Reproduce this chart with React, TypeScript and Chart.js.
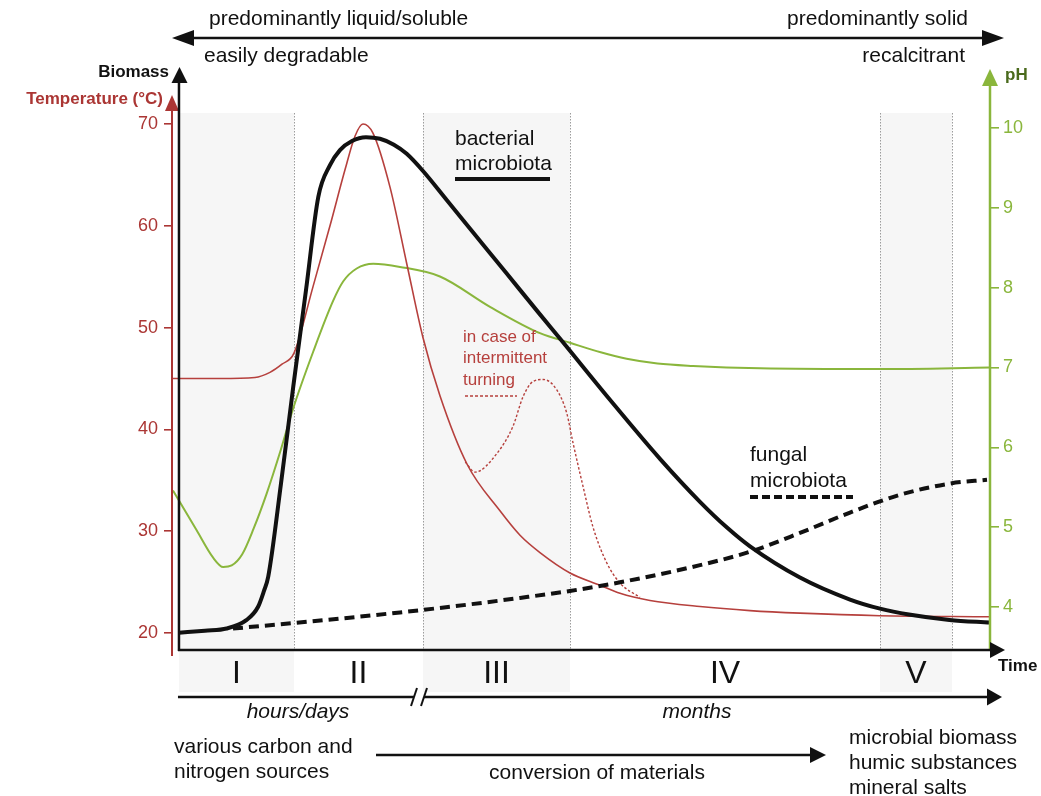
import React, { useEffect, useRef } from "react";
import { Chart, registerables } from "chart.js";

Chart.register(...registerables);

const FONT = "'Liberation Sans', Arial, Helvetica, sans-serif";
const RED = "#ab3634";
const RED_LINE = "#b6403d";
const GREEN = "#8ab63c";
const GREEN_DARK = "#4a6a1c";
const INK = "#111111";

// ---- axes / ticks ----
const tempTicks = [20, 30, 40, 50, 60, 70];
const phTicks = [4, 5, 6, 7, 8, 9, 10];

// ---- phases (time units) ----
const phaseBounds = [0, 14.18, 30.09, 48.21, 86.44, 95.31];
const phaseLabels = ["I", "II", "III", "IV", "V"];
const phaseShaded = [true, false, true, false, true];

// ---- bacterial microbiota (biomass, relative units) ----
const bacterialTime = [0, 3.2, 5.88, 8.35, 9.74, 10.48, 11.0, 12.58, 14.09, 15.66, 17.18, 18.62, 19.85, 21.33, 23.06, 24.78, 26.5, 28.08, 30.09, 33.01, 36.25, 40.41, 44.51, 47.35, 53.14, 59.31, 64.24, 67.57, 70.41, 76.57, 82.74, 86.44, 90.0, 95.0, 100];
const bacterialBiomass = [3.2, 3.6, 4.0, 5.6, 8.0, 11.0, 13.6, 31, 49, 67, 84.4, 90.3, 93.1, 94.8, 95.5, 95.2, 94.1, 92.4, 89.2, 83.8, 77.8, 70.1, 62.5, 57.3, 46.6, 35.6, 27.6, 22.8, 19.3, 13.5, 9.4, 7.7, 6.6, 5.6, 5.1];

// ---- fungal microbiota ----
const fungalTime = [6.66, 14.06, 27.25, 35.88, 42.05, 48.21, 54.38, 64.24, 70.41, 76.57, 82.74, 88.9, 95.07, 99.63];
const fungalBiomass = [4.0, 5.0, 7.0, 8.5, 9.7, 11.0, 12.6, 15.8, 18.3, 21.8, 25.6, 28.9, 31.0, 31.7];

// ---- temperature (°C) ----
const tempTime = [-0.86, 5.06, 9.37, 11.22, 12.7, 14.18, 16.52, 18.62, 20.47, 21.7, 22.69, 23.92, 26.02, 28.08, 30.09, 32.18, 35.51, 39.58, 42.05, 44.51, 48.21, 51.91, 54.38, 58.08, 64.24, 70.41, 76.57, 86.44, 100];
const tempValues = [45, 45, 45.1, 45.6, 46.4, 47.5, 54, 60, 65.5, 68.8, 70, 69.1, 63.8, 56.3, 49.0, 43.3, 36.6, 32, 29.6, 27.9, 25.9, 24.7, 23.9, 23.2, 22.6, 22.2, 21.95, 21.7, 21.6];

// ---- temperature with intermittent turning ----
const turnTime = [35.3, 36.5, 39.17, 41.18, 42.42, 43.65, 44.92, 46.57, 47.81, 48.58, 49.82, 51.05, 52.74, 54.38, 56.84];
const turnValues = [36.8, 35.8, 37.6, 40.3, 43.2, 44.7, 44.9, 43.9, 41.6, 38.7, 34.4, 30.4, 26.9, 24.9, 23.5];

// ---- pH ----
const phTime = [-0.74, 2.18, 4.19, 5.46, 6.5, 7.8, 9.2, 10.81, 12.5, 14.09, 16.56, 19.03, 20.26, 21.91, 23.96, 27.25, 32.18, 38.35, 44.51, 48.21, 52.0, 55.2, 59.0, 63.38, 71.64, 86.44, 100];
const phValues = [5.46, 4.96, 4.62, 4.5, 4.52, 4.66, 4.98, 5.42, 5.95, 6.49, 7.2, 7.84, 8.08, 8.24, 8.3, 8.26, 8.14, 7.76, 7.43, 7.31, 7.19, 7.11, 7.05, 7.02, 6.99, 6.98, 7.0];

const pts = (xs: number[], ys: number[]) => xs.map((x, i) => ({ x, y: ys[i] }));

function tri(ctx: CanvasRenderingContext2D, tipX: number, tipY: number, dir: string, len: number, half: number, color: string) {
  ctx.fillStyle = color;
  ctx.beginPath();
  ctx.moveTo(tipX, tipY);
  if (dir === "up") { ctx.lineTo(tipX - half, tipY + len); ctx.lineTo(tipX + half, tipY + len); }
  if (dir === "right") { ctx.lineTo(tipX - len, tipY - half); ctx.lineTo(tipX - len, tipY + half); }
  if (dir === "left") { ctx.lineTo(tipX + len, tipY - half); ctx.lineTo(tipX + len, tipY + half); }
  ctx.closePath();
  ctx.fill();
}

function seg(ctx: CanvasRenderingContext2D, x1: number, y1: number, x2: number, y2: number) {
  ctx.beginPath();
  ctx.moveTo(x1, y1);
  ctx.lineTo(x2, y2);
  ctx.stroke();
}

function txt(ctx: CanvasRenderingContext2D, s: string, x: number, y: number, font: string, color: string, align: CanvasTextAlign) {
  ctx.font = font;
  ctx.fillStyle = color;
  ctx.textAlign = align;
  ctx.textBaseline = "middle";
  ctx.fillText(s, x, y);
}

const overlayPlugin = {
  id: "overlay",
  beforeDatasetsDraw(chart: any) {
    const { ctx, chartArea: ca, scales } = chart;
    const xs = scales.x;
    ctx.save();
    for (let i = 0; i < phaseLabels.length; i++) {
      const a = xs.getPixelForValue(phaseBounds[i]);
      const b = xs.getPixelForValue(phaseBounds[i + 1]);
      if (phaseShaded[i]) {
        ctx.fillStyle = "#f6f6f6";
        ctx.fillRect(a, ca.top, b - a, 692 - ca.top);
      }
    }
    ctx.strokeStyle = "#9c9c9c";
    ctx.lineWidth = 1;
    ctx.setLineDash([1.5, 1.5]);
    for (let i = 1; i < phaseBounds.length; i++) {
      const p = Math.round(xs.getPixelForValue(phaseBounds[i])) + 0.5;
      seg(ctx, p, ca.top, p, ca.bottom);
    }
    ctx.restore();
  },
  afterDraw(chart: any) {
    const { ctx, chartArea: ca, scales } = chart;
    const xs = scales.x;
    const x0 = xs.getPixelForValue(0);
    const bottom = ca.bottom;
    ctx.save();
    ctx.setLineDash([]);
    ctx.lineCap = "butt";

    // temperature axis (red)
    ctx.strokeStyle = RED;
    ctx.lineWidth = 2;
    seg(ctx, ca.left, bottom + 6, ca.left, 108);
    tri(ctx, ca.left, 95, "up", 16, 7, RED);

    // biomass axis (black)
    ctx.strokeStyle = INK;
    ctx.lineWidth = 2.5;
    seg(ctx, x0, bottom + 1, x0, 82);
    tri(ctx, x0 + 0.5, 67, "up", 16, 8, INK);

    // pH axis (green)
    ctx.strokeStyle = GREEN;
    ctx.lineWidth = 2.5;
    seg(ctx, ca.right, bottom, ca.right, 84);
    tri(ctx, ca.right, 69, "up", 17, 8, GREEN);

    // time axis
    ctx.strokeStyle = INK;
    ctx.lineWidth = 2.5;
    seg(ctx, x0 - 1, bottom, 992, bottom);
    tri(ctx, 1005, bottom, "right", 15, 8, INK);

    // axis titles
    txt(ctx, "Biomass", 169, 72, `bold 17px ${FONT}`, INK, "right");
    txt(ctx, "Temperature (°C)", 163, 99, `bold 17px ${FONT}`, RED, "right");
    txt(ctx, "pH", 1005, 75, `bold 17px ${FONT}`, GREEN_DARK, "left");
    txt(ctx, "Time", 998, 666, `bold 17px ${FONT}`, INK, "left");

    // phase labels
    for (let i = 0; i < phaseLabels.length; i++) {
      const a = xs.getPixelForValue(phaseBounds[i]);
      const b = xs.getPixelForValue(phaseBounds[i + 1]);
      txt(ctx, phaseLabels[i], (a + b) / 2, 674, `32px ${FONT}`, INK, "center");
    }

    // top double arrow
    ctx.strokeStyle = INK;
    ctx.lineWidth = 2.5;
    seg(ctx, 190, 38, 986, 38);
    tri(ctx, 172, 38, "left", 22, 8, INK);
    tri(ctx, 1004, 38, "right", 22, 8, INK);
    txt(ctx, "predominantly liquid/soluble", 209, 19, `21px ${FONT}`, INK, "left");
    txt(ctx, "easily degradable", 204, 56, `21px ${FONT}`, INK, "left");
    txt(ctx, "predominantly solid", 968, 19, `21px ${FONT}`, INK, "right");
    txt(ctx, "recalcitrant", 965, 56, `21px ${FONT}`, INK, "right");

    // timeline with break
    ctx.lineWidth = 2.5;
    seg(ctx, x0 - 1, 697, 414, 697);
    seg(ctx, 424, 697, 989, 697);
    ctx.lineWidth = 2;
    seg(ctx, 411, 706, 417, 688);
    seg(ctx, 421, 706, 427, 688);
    tri(ctx, 1002, 697, "right", 15, 8.5, INK);
    txt(ctx, "hours/days", 298, 712, `italic 21px ${FONT}`, INK, "center");
    txt(ctx, "months", 697, 712, `italic 21px ${FONT}`, INK, "center");

    // materials
    txt(ctx, "various carbon and", 174, 747, `21px ${FONT}`, INK, "left");
    txt(ctx, "nitrogen sources", 174, 772, `21px ${FONT}`, INK, "left");
    ctx.lineWidth = 2.5;
    seg(ctx, 376, 755, 812, 755);
    tri(ctx, 826, 755, "right", 16, 8, INK);
    txt(ctx, "conversion of materials", 597, 773, `21px ${FONT}`, INK, "center");
    txt(ctx, "microbial biomass", 849, 738, `21px ${FONT}`, INK, "left");
    txt(ctx, "humic substances", 849, 763, `21px ${FONT}`, INK, "left");
    txt(ctx, "mineral salts", 849, 788, `21px ${FONT}`, INK, "left");

    // bacterial label
    txt(ctx, "bacterial", 455, 139, `21px ${FONT}`, INK, "left");
    txt(ctx, "microbiota", 455, 164, `21px ${FONT}`, INK, "left");
    ctx.lineWidth = 4;
    seg(ctx, 455, 179, 550, 179);

    // turning label
    txt(ctx, "in case of", 463, 337, `17px ${FONT}`, RED_LINE, "left");
    txt(ctx, "intermittent", 463, 358, `17px ${FONT}`, RED_LINE, "left");
    txt(ctx, "turning", 463, 380, `17px ${FONT}`, RED_LINE, "left");
    ctx.strokeStyle = RED_LINE;
    ctx.lineWidth = 1.6;
    ctx.setLineDash([3, 2]);
    seg(ctx, 465, 396, 517, 396);

    // fungal label
    ctx.setLineDash([]);
    txt(ctx, "fungal", 750, 455, `21px ${FONT}`, INK, "left");
    txt(ctx, "microbiota", 750, 481, `21px ${FONT}`, INK, "left");
    ctx.strokeStyle = INK;
    ctx.lineWidth = 4;
    ctx.setLineDash([8, 4]);
    seg(ctx, 750, 497, 853, 497);

    ctx.restore();
  },
};

export default function App() {
  const ref = useRef<HTMLCanvasElement>(null);
  useEffect(() => {
    if (!ref.current) return;
    const chart = new Chart(ref.current, {
      type: "line",
      data: {
        datasets: [
          {
            label: "bacterial microbiota",
            data: pts(bacterialTime, bacterialBiomass),
            yAxisID: "yB",
            borderColor: INK,
            borderWidth: 4,
            cubicInterpolationMode: "monotone",
            pointRadius: 0,
          },
          {
            label: "fungal microbiota",
            data: pts(fungalTime, fungalBiomass),
            yAxisID: "yB",
            borderColor: INK,
            borderWidth: 4,
            borderDash: [10, 6],
            cubicInterpolationMode: "monotone",
            pointRadius: 0,
          },
          {
            label: "temperature",
            data: pts(tempTime, tempValues),
            yAxisID: "yT",
            borderColor: RED_LINE,
            borderWidth: 1.6,
            cubicInterpolationMode: "monotone",
            pointRadius: 0,
          },
          {
            label: "temperature (intermittent turning)",
            data: pts(turnTime, turnValues),
            yAxisID: "yT",
            borderColor: RED_LINE,
            borderWidth: 1.4,
            borderDash: [2.5, 2],
            cubicInterpolationMode: "monotone",
            pointRadius: 0,
          },
          {
            label: "pH",
            data: pts(phTime, phValues),
            yAxisID: "yP",
            borderColor: GREEN,
            borderWidth: 2,
            cubicInterpolationMode: "monotone",
            pointRadius: 0,
          },
        ],
      },
      options: {
        responsive: false,
        animation: false,
        events: [],
        layout: { padding: { top: 113, bottom: 146, left: 0, right: 0 } },
        plugins: { legend: { display: false }, tooltip: { enabled: false } },
        scales: {
          x: { type: "linear", min: -0.86, max: 100, display: false },
          yT: {
            type: "linear",
            position: "left",
            min: 18.33,
            max: 71.08,
            afterFit: (s: any) => { s.width = 172; },
            afterBuildTicks: (s: any) => { s.ticks = tempTicks.map((v) => ({ value: v })); },
            border: { display: false },
            grid: { drawOnChartArea: false, drawTicks: true, tickLength: 8, color: RED, lineWidth: 1.6 },
            ticks: { color: RED, font: { family: FONT, size: 18 }, padding: 6, autoSkip: false },
          },
          yP: {
            type: "linear",
            position: "right",
            min: 3.461,
            max: 10.188,
            afterFit: (s: any) => { s.width = 51; },
            afterBuildTicks: (s: any) => { s.ticks = phTicks.map((v) => ({ value: v })); },
            border: { display: false },
            grid: { drawOnChartArea: false, drawTicks: true, tickLength: 9, color: GREEN, lineWidth: 1.6 },
            ticks: { color: GREEN, font: { family: FONT, size: 18 }, padding: 4, autoSkip: false },
          },
          yB: { type: "linear", display: false, min: 0, max: 100 },
        },
      } as any,
      plugins: [overlayPlugin],
    });
    return () => chart.destroy();
  }, []);
  return (
    <div style={{ position: "fixed", left: 0, top: 0, width: 1041, height: 796, background: "#ffffff" }}>
      <canvas ref={ref} width={1041} height={796} style={{ display: "block", width: 1041, height: 796 }} />
    </div>
  );
}
